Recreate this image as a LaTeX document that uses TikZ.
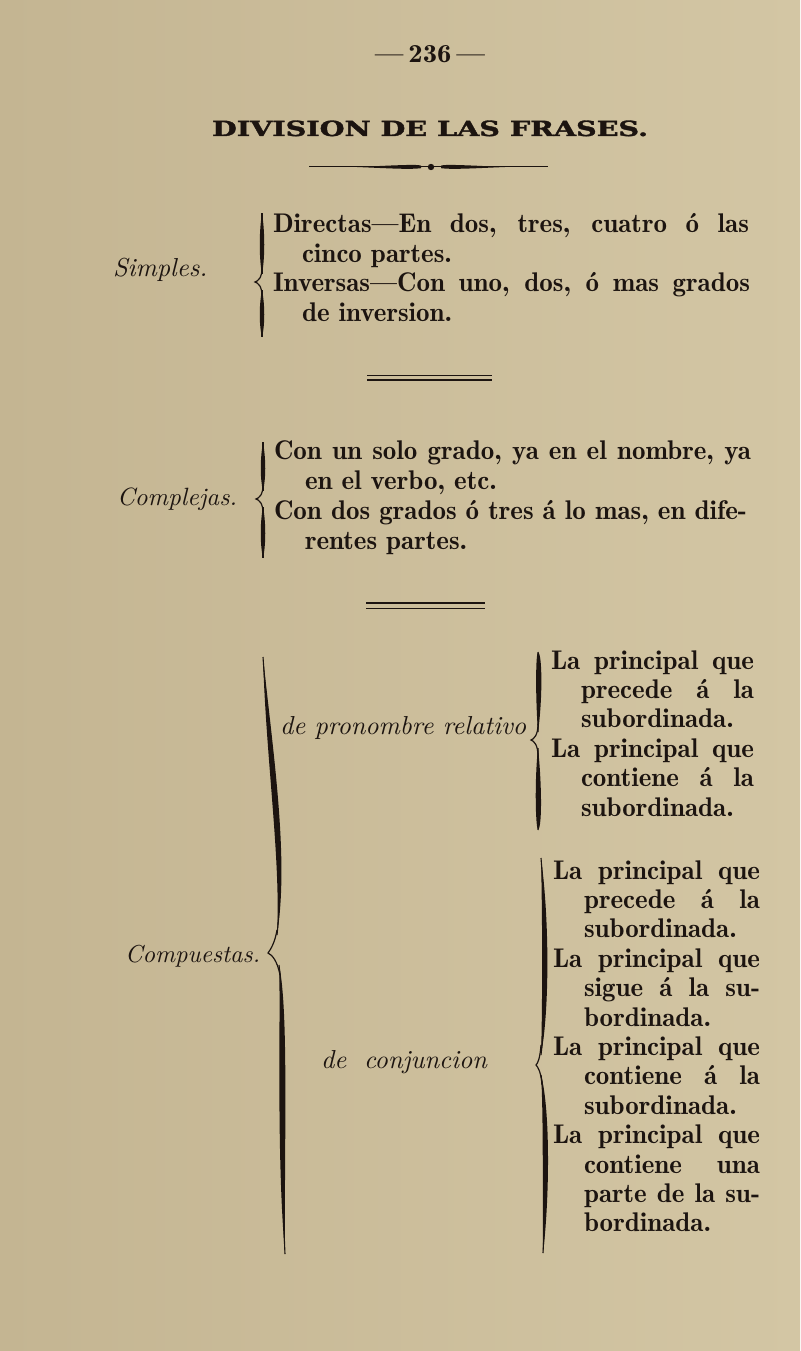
\documentclass[tikz,border=0pt]{standalone}
\usepackage{fontspec}
\usepackage{graphicx}
\newfontfamily\titlefont{DejaVu Serif}[BoldFeatures={FakeBold=1.6}]
\definecolor{paper}{RGB}{215,203,170}
\definecolor{paperL}{RGB}{196,181,146}
\definecolor{paperR}{RGB}{211,198,164}
\definecolor{ink}{RGB}{28,20,16}
\newcommand{\bodyfont}{\fontseries{b}\selectfont}
\newcommand{\JL}[2]{\scalebox{2.7}{\bodyfont\makebox[\dimexpr #1pt*10/27\relax][s]{#2}}}
\newcommand{\TX}[1]{\scalebox{2.7}{\bodyfont #1}}
\newcommand{\IT}[2][2.6]{\scalebox{#1}{\itshape #2}}
\newcommand{\armlens}[9]{%
  \fill[ink] (#1,#2) .. controls ({#3+#9},#4) and ({#5+#9},#6) .. (#7,#8) .. controls ({#5-#9},#6) and ({#3-#9},#4) .. (#1,#2);%
  \draw[ink,line width=1.1pt] (#1,#2) .. controls (#3,#4) and (#5,#6) .. (#7,#8);}
\begin{document}
\begin{tikzpicture}[x=1pt,y=-1pt,
  txt/.style={anchor=base west,inner sep=0pt,outer sep=0pt,text=ink},
  cusp/.style={draw=ink,line width=1.2pt}]
\useasboundingbox (0,0) rectangle (800,1351);
\shade[left color=paperL,middle color=paper,right color=paperR] (0,0) rectangle (800,1351);

% header
\node[anchor=base,inner sep=0pt,text=ink] (pagenum) at (430,63) {\resizebox{110pt}{17pt}{\fontseries{b}\selectfont —\,236\,—}};
\node[txt] (title) at (212,136) {\resizebox{436pt}{15.5pt}{\titlefont\bfseries DIVISION DE LAS FRASES.}};
% ornament
\draw[ink,line width=1pt] (309,167) -- (548,167);
\fill[ink] (357,167) .. controls (390,165.6) and (417,164) .. (421,165.6) -- (421,168.2) .. controls (410,169.6) and (390,168.4) .. (357,167);
\fill[ink] (505,167) .. controls (472,165.6) and (445,164) .. (441,165.6) -- (441,168.2) .. controls (452,169.6) and (472,168.4) .. (505,167);
\fill[ink] (431,167) circle (3.2);

% Simples
\node[txt] (simples) at (113,276) {\IT{Simples.}};
\node[txt] (s1) at (273,233) {\JL{476}{Directas—En dos, tres, cuatro ó las}};
\node[txt] (s2) at (302,262.4) {\TX{cinco partes.}};
\node[txt] (s3) at (273,291.8) {\JL{477}{Inversas—Con uno, dos, ó mas grados}};
\node[txt] (s4) at (302,321.2) {\TX{de inversion.}};
\armlens{262}{213}{262}{232}{262}{258}{262}{274}{3}
\draw[cusp] (262,268) .. controls (262,278) and (258,281) .. (255,282) .. controls (258,283) and (262,286) .. (262,296);
\armlens{262}{290}{262}{305}{262}{325}{262}{337}{3}

% rule 1
\draw[ink,line width=1pt] (367,375) -- (492,375);
\draw[ink,line width=2.6pt] (367,380) -- (492,380);

% Complejas
\node[txt] (complejas) at (117,505) {\IT[2.5]{Complejas.}};
\node[txt] (c1) at (274,459) {\JL{477}{Con un solo grado, ya en el nombre, ya}};
\node[txt] (c2) at (305,489) {\TX{en el verbo, etc.}};
\node[txt] (c3) at (274,519) {\JL{473}{Con dos grados ó tres á lo mas, en dife-}};
\node[txt] (c4) at (305,549) {\TX{rentes partes.}};
\armlens{263}{442}{263}{460}{263}{478}{263}{491}{3}
\draw[cusp] (263,485) .. controls (263,495) and (259,498) .. (256,499) .. controls (259,500) and (263,503) .. (263,513);
\armlens{263}{507}{263}{522}{263}{545}{263}{558}{3}

% rule 2
\draw[ink,line width=1.4pt] (366,603) -- (485,603);
\draw[ink,line width=1.4pt] (366,608.5) -- (485,608.5);

% Compuestas
\node[txt] (compuestas) at (125,962) {\IT[2.45]{Compuestas.}};
\armlens{263}{657}{270}{760}{285}{860}{277}{935}{4}
\draw[cusp] (277,930) .. controls (275,942) and (271,949) .. (268,953) .. controls (272,955) and (277,960) .. (280,975);
\armlens{279}{965}{285}{1010}{280}{1150}{285}{1254}{4}

% de pronombre relativo
\node[txt] (relativo) at (280,734) {\IT{de pronombre relativo}};
\armlens{538}{652}{539}{654}{539}{700}{538}{732}{3.5}
\draw[cusp] (538,724) .. controls (538,735) and (534,739) .. (531,740) .. controls (534,741) and (538,745) .. (538,756);
\armlens{538}{748}{538}{780}{539}{827}{538}{830}{3.5}
\node[txt] (r1) at (551,669) {\JL{203}{La principal que}};
\node[txt] (r2) at (581,698.4) {\JL{173}{precede á la}};
\node[txt] (r3) at (581,727.8) {\TX{subordinada.}};
\node[txt] (r4) at (551,757.2) {\JL{203}{La principal que}};
\node[txt] (r5) at (581,786.6) {\JL{173}{contiene á la}};
\node[txt] (r6) at (581,816) {\TX{subordinada.}};

% de conjuncion
\node[txt] (conjuncion) at (321,1068) {\scalebox{2.6}{\makebox[\dimexpr 166pt*10/26\relax][s]{\itshape de conjuncion}}};
\armlens{541}{858}{546}{920}{546}{1010}{541}{1055}{3.5}
\draw[cusp] (541,1045) .. controls (540,1058) and (538,1063) .. (536,1065) .. controls (538,1067) and (541,1072) .. (542,1085);
\armlens{541}{1075}{547}{1110}{546}{1200}{543}{1253}{3.5}
\node[txt] (k1) at (553,879) {\JL{207}{La principal que}};
\node[txt] (k2) at (584,908.4) {\JL{176}{precede á la}};
\node[txt] (k3) at (584,937.8) {\TX{subordinada.}};
\node[txt] (k4) at (553,967.2) {\JL{207}{La principal que}};
\node[txt] (k5) at (584,996.6) {\JL{176}{sigue á la su-}};
\node[txt] (k6) at (584,1026) {\TX{bordinada.}};
\node[txt] (k7) at (553,1055.4) {\JL{207}{La principal que}};
\node[txt] (k8) at (584,1084.8) {\JL{176}{contiene á la}};
\node[txt] (k9) at (584,1114.2) {\TX{subordinada.}};
\node[txt] (k10) at (553,1143.6) {\JL{207}{La principal que}};
\node[txt] (k11) at (584,1173) {\JL{176}{contiene una}};
\node[txt] (k12) at (584,1202.4) {\JL{176}{parte de la su-}};
\node[txt] (k13) at (584,1231.8) {\TX{bordinada.}};
\end{tikzpicture}
\end{document}
